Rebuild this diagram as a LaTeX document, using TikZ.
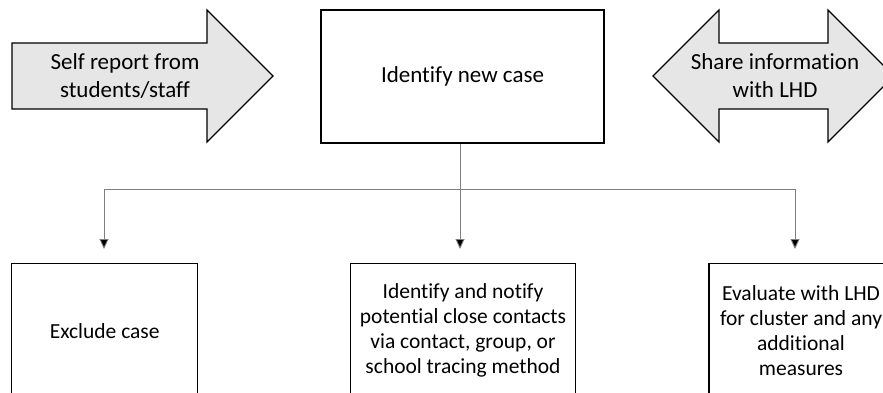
\documentclass[tikz,border=0pt]{standalone}
\usepackage{fontspec}
\setmainfont{Carlito}[Ligatures=NoCommon]
\usetikzlibrary{arrows.meta}
\definecolor{shapegray}{HTML}{E7E6E6}
\definecolor{linegray}{HTML}{7F7F7F}

\begin{document}
\begin{tikzpicture}[x=1pt,y=-1pt,
	box/.style={draw,line width=1.3pt,align=center,inner sep=0pt},
	big text/.style={align=center,font=\fontsize{23}{28}\selectfont},
	small text/.style={align=center,font=\fontsize{21.5}{25}\selectfont},
	fat arrow/.style={draw,fill=shapegray,line width=1.2pt,line join=miter},
	conn/.style={draw=linegray,line width=0.9pt},
	arr/.style={conn,-{Triangle[length=10pt,width=9pt,fill=black]},shorten >=14pt}]
	
	\useasboundingbox (0,0) rectangle (883,393);
	\clip (0,0) rectangle (883,393);
	
	% side arrows
	\path[fat arrow] (12,43) -- (207,43) -- (207,10) -- (273,76) -- (207,142) -- (207,109) -- (12,109) -- cycle;
	\node[big text] (self) at (125,76) {Self report from\\students/staff};
	
	\path[fat arrow] (653,76) -- (719,10) -- (719,43) -- (828,43) -- (828,10) -- (894,76)
		-- (828,142) -- (828,109) -- (719,109) -- (719,142) -- cycle;
	\node[big text] (share) at (775,76) {Share information\\with LHD};
	
	% boxes
	\node[box,big text,minimum width=283pt,minimum height=133pt] (new) at (462.5,76.5) {Identify new case};
	
	\node[box,small text,minimum width=186pt,minimum height=134pt,anchor=north] (exclude) at (104.7,263) {Exclude case};
	\node[box,small text,minimum width=225pt,minimum height=134pt,anchor=north] (notify) at (463,263)
		{Identify and notify\\potential close contacts\\via contact, group, or\\school tracing method};
	\node[box,small text,minimum width=184pt,minimum height=134pt,anchor=north] (evaluate) at (801,263)
		{Evaluate with LHD\\for cluster and any\\additional\\measures};
	
	% connectors
	\coordinate (split) at (460,189);
	\coordinate (hl) at (104,189);
	\coordinate (hr) at (795,189);
	
	\draw[conn] (split |- new.south) -- (split);
	\draw[conn] (hl) -- (hr);
	\draw[arr] (hl) -- (hl |- exclude.north);
	\draw[arr] (split) -- (split |- notify.north);
	\draw[arr] (hr) -- (hr |- evaluate.north);
	
\end{tikzpicture}
\end{document}
